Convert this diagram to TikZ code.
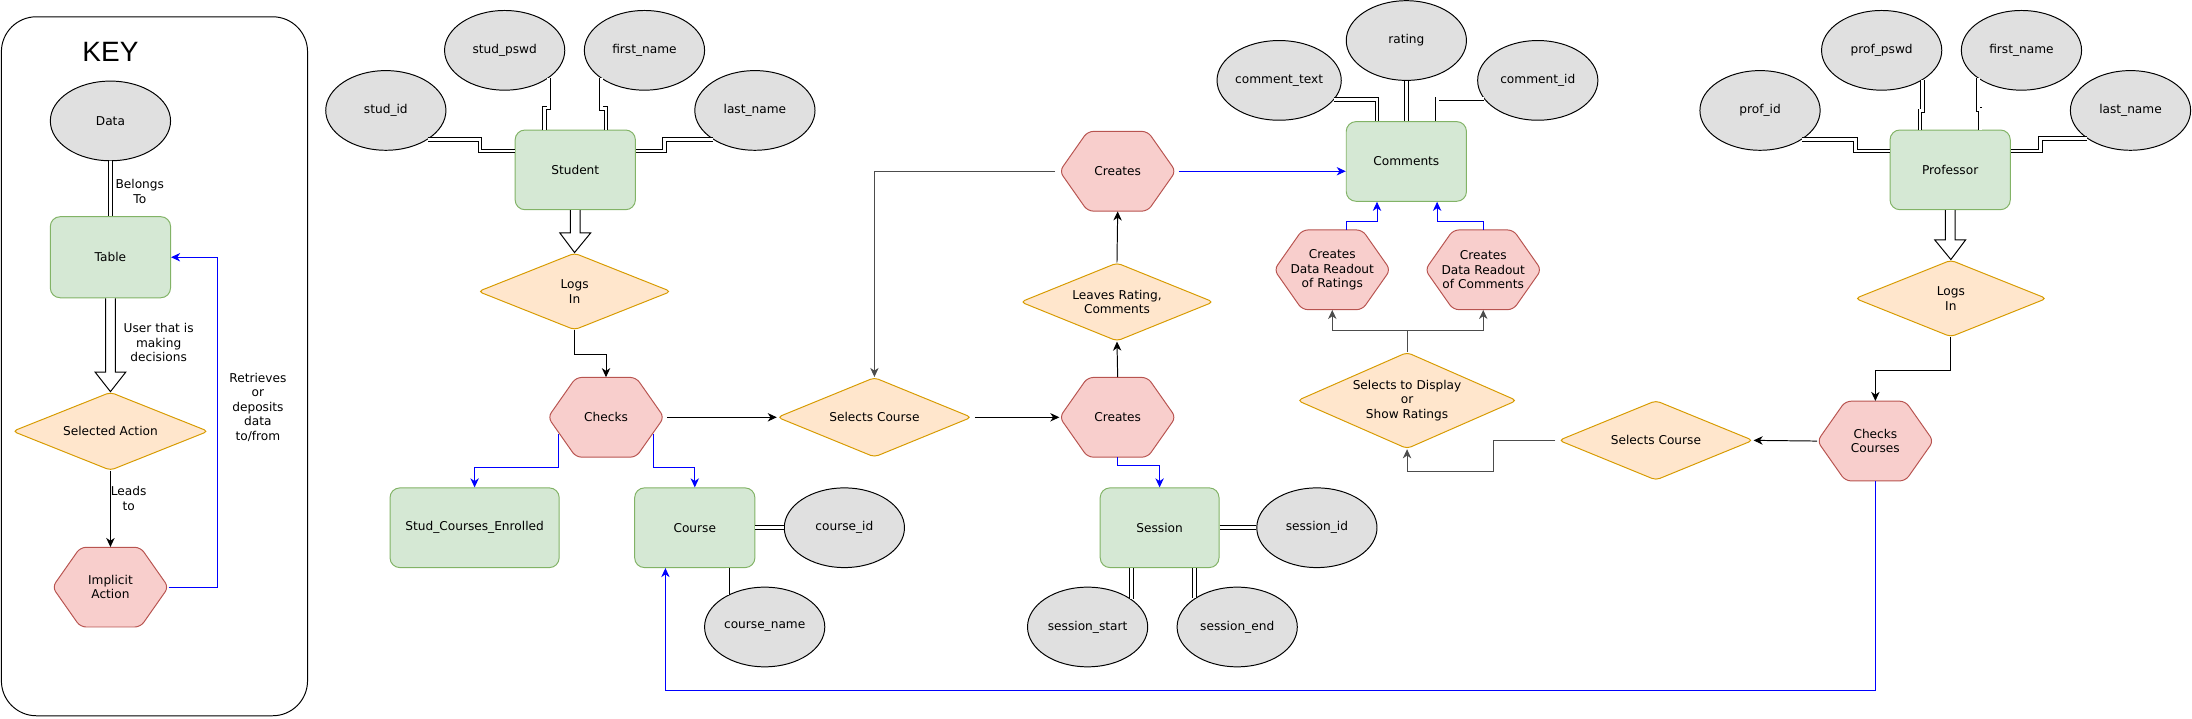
\documentclass[tikz,border=0pt]{standalone}
\usepackage{fontspec}
\setmainfont{DejaVu Sans}
\newfontfamily\keyfont{Liberation Sans}
\usetikzlibrary{shapes.geometric,arrows.meta,calc}
\definecolor{efill}{HTML}{E0E0E0}
\definecolor{gfill}{HTML}{D5E8D4}
\definecolor{gline}{HTML}{82B366}
\definecolor{ofill}{HTML}{FFE6CC}
\definecolor{oline}{HTML}{D79B00}
\definecolor{rfill}{HTML}{F8CECC}
\definecolor{rline}{HTML}{B85450}
\definecolor{cblue}{HTML}{0000FF}
\newcommand\hexn[4]{%
  \path[hexline] (#2-41.5,#3) -- (#2-21.5,#3-28.5) -- (#2+21.5,#3-28.5) -- (#2+41.5,#3) -- (#2+21.5,#3+28.5) -- (#2-21.5,#3+28.5) -- cycle;
  \node[hexbox] (#1) at (#2,#3) {#4};}
\newcommand\hollowarrow[2]{%
  \draw[line width=0.7pt, fill=white, line join=miter] let \p1=(#1), \p2=(#2) in
   (\x1-3.5pt,\y1) -- (\x1-3.5pt,\y2+14pt) -- (\x1-11pt,\y2+14pt) -- (\x2,\y2) -- (\x1+11pt,\y2+14pt) -- (\x1+3.5pt,\y2+14pt) -- (\x1+3.5pt,\y1);}
\begin{document}
\begin{tikzpicture}[x=1pt,y=-1pt,
  font=\fontsize{8.7}{10.3}\selectfont,
  attr/.style={ellipse, draw=black, fill=efill, line width=0.7pt, minimum width=86pt, minimum height=57pt, inner sep=0pt},
  ent/.style={rectangle, rounded corners=7pt, draw=gline, fill=gfill, line width=0.7pt, minimum width=86pt, minimum height=57pt, inner sep=0pt},
  dec/.style={diamond, shape aspect=2.4, draw=oline, fill=ofill, rounded corners=3pt, line width=0.7pt, inner sep=0pt, minimum width=139pt, minimum height=56pt, align=center},
  hexline/.style={draw=rline, fill=rfill, line width=0.7pt, rounded corners=4pt},
  hexbox/.style={rectangle, minimum width=83pt, minimum height=57pt, inner sep=0pt, align=center},
  lbl/.style={align=center, inner sep=0pt},
  dbl/.style={draw=black, double=white, double distance=2.1pt, line width=0.6pt},
  arr/.style={draw=black, line width=0.7pt, -{Stealth[length=6.5pt,width=6pt,inset=2pt]}},
  garr/.style={arr, draw=black!70},
  barr/.style={arr, draw=cblue},
]
\useasboundingbox (0,0) rectangle (1568,514);

% ---------------- KEY ----------------
\node[draw=black, line width=0.7pt, rounded corners=25pt, minimum width=219pt, minimum height=500pt, inner sep=0pt] (keybox) at (110.5,262) {};
\node[font=\keyfont\fontsize{20}{24}\selectfont, inner sep=0pt] (keyt) at (79,37) {KEY};
\node[attr] (kdata) at (79,86.5) {Data};
\node[ent, minimum height=58pt] (ktable) at (79,184) {Table};
\node[dec, minimum width=140pt] (kact) at (79,308.5) {Selected Action};
\hexn{kimp}{79}{420}{Implicit\\Action}
\draw[dbl] (kdata) -- (ktable);
\node[lbl] (kbel) at (100,137) {Belongs\\To};
\hollowarrow{ktable.south}{kact.north}
\node[lbl] (kuser) at (113.5,245) {User that is\\making\\decisions};
\draw[arr] (kact) -- (kimp);
\node[lbl] (klead) at (92,356.5) {Leads\\to};
\draw[barr] (kimp.east) -- ++(35,0) |- (ktable.east);
\node[lbl] (kret) at (184.5,291.3) {Retrieves\\or\\deposits\\data\\to/from};

% ---------------- Student ----------------
\node[attr] (sid) at (276,79) {stud\_id};
\node[attr] (spw) at (361,36) {stud\_pswd};
\node[attr] (sfn) at (461,36) {first\_name};
\node[attr] (sln) at (540,79) {last\_name};
\node[ent] (stu) at (411.5,121.5) {Student};
\draw[dbl] (sid.-35) -- ++(37.5,0) |- ($(stu.west)+(0,-13.5)$);
\draw[dbl] (spw.-32.5) -- ++(0,21.5) -| ($(stu.north)+(-22,0)$);
\draw[dbl] (sfn.-147.5) -- ++(0,21.5) -| ($(stu.north)+(22,0)$);
\draw[dbl] (sln.-145) -- ++(-35,0) |- ($(stu.east)+(0,-13.5)$);
\node[dec, minimum width=138pt, minimum height=55pt] (slog) at (411,208.5) {Logs\\In};
\hollowarrow{stu.south}{slog.north}
\hexn{chk}{433.5}{298.5}{Checks}
\draw[arr] (slog.south) -- ++(0,17) -| (chk.north);
\node[ent, minimum width=121pt] (sce) at (339.5,377.5) {Stud\_Courses\_Enrolled};
\node[ent] (crs) at (497,377.5) {Course};
\draw[barr] ($(chk.center)+(-34,12)$) -- ++(0,24) -| (sce.north);
\draw[barr] ($(chk.center)+(34,12)$) -- ++(0,24) -| (crs.north);
\node[attr] (cid) at (604,377.5) {course\_id};
\node[attr] (cnm) at (547,448.5) {course\_name};
\draw[dbl] (crs.east) -- (cid.west);
\draw[dbl] (crs.south -| cnm.139) -- (cnm.139);

% ---------------- Middle ----------------
\node[dec, minimum height=57pt] (ssel) at (625.5,298.5) {Selects Course};
\draw[arr] ($(chk.east)+(2,0)$) -- (ssel.west);
\hexn{cr1}{799.5}{298.5}{Creates}
\draw[arr] ($(ssel.east)+(2,0)$) -- (cr1.west);
\node[dec, minimum width=138pt] (leave) at (799,216) {Leaves Rating,\\Comments};
\draw[arr] (cr1.north) -- (leave.south);
\hexn{cr2}{799.5}{122.5}{Creates}
\draw[arr] (leave.north) -- (cr2.south);
\draw[garr] ($(cr2.west)+(-3,0)$) -| (ssel.north);

\node[ent, minimum width=85pt] (ses) at (829.5,377.5) {Session};
\draw[barr] (cr1.south) -- ++(0,6) -| (ses.north);
\node[attr] (sesid) at (942,377.5) {session\_id};
\node[attr] (sst) at (778,448.5) {session\_start};
\node[attr] (sen) at (885,448.5) {session\_end};
\draw[dbl] (ses.east) -- (sesid.west);
\draw[dbl] (ses.south -| sst.32) -- (sst.32);
\draw[dbl] (ses.south -| sen.146) -- (sen.146);

% ---------------- Comments ----------------
\node[attr] (ctx) at (915,57.5) {comment\_text};
\node[attr] (rat) at (1006,29) {rating};
\node[attr] (cmid) at (1100,57.5) {comment\_id};
\node[ent] (com) at (1006,115.5) {Comments};
\draw[dbl] (ctx.-19) -| ($(com.north)+(-21,0)$);
\draw[dbl] (rat.south) -- (com.north);
\draw[dbl] (cmid.-161) -| ($(com.north)+(22,0)$);
\draw[barr] ($(cr2.east)+(2,0)$) -- (cr2.east -| com.west);
\hexn{rdr}{953}{193}{Creates\\Data Readout\\of Ratings}
\hexn{rdc}{1061}{193}{Creates\\Data Readout\\of Comments}
\draw[barr] ($(rdr.north)+(10,0)$) -- ++(0,-6) -| ($(com.south)+(-21,0)$);
\draw[barr] (rdc.north) -- ++(0,-6) -| ($(com.south)+(22,0)$);
\node[dec, shape aspect=2.3, minimum width=157pt, minimum height=69pt] (sdisp) at (1006.5,286.5) {Selects to Display\\or\\Show Ratings};
\draw[garr] (sdisp.north) -- ++(0,-15) -| (rdr.south);
\draw[garr] (sdisp.north) -- ++(0,-15) -| (rdc.south);

% ---------------- Professor ----------------
\node[dec, minimum height=57pt] (psel) at (1184.5,315) {Selects Course};
\draw[garr] ($(psel.west)+(-2,0)$) -- ++(-44,0) -- ++(0,22) -| (sdisp.south);
\hexn{pchk}{1341.5}{315.5}{Checks\\Courses}
\draw[arr] (pchk.west) -- (psel.east);
\draw[barr] (pchk.south) -- ++(0,150) -| ($(crs.south)+(-21,0)$);

\node[attr] (pid) at (1259,79) {prof\_id};
\node[attr] (ppw) at (1346,36) {prof\_pswd};
\node[attr] (pfn) at (1446,36) {first\_name};
\node[attr] (pln) at (1524,79) {last\_name};
\node[ent] (prof) at (1395,121.5) {Professor};
\draw[dbl] (pid.-35) -- ++(38.5,0) |- ($(prof.west)+(0,-13.5)$);
\draw[dbl] (ppw.-36) -- ++(0,22) -| ($(prof.north)+(-21.6,0)$);
\draw[dbl] (pfn.-147) -- ++(0,22) -| ($(prof.north)+(21.4,0)$);
\draw[dbl] (pln.-147.5) -- ++(-33.3,0) |- ($(prof.east)+(0,-13.5)$);
\node[dec, minimum width=137pt, minimum height=55pt] (plog) at (1395.5,213.5) {Logs\\In};
\hollowarrow{prof.south}{plog.north}
\draw[arr] (plog.south) -- ++(0,24) -| (pchk.north);
\end{tikzpicture}
\end{document}
